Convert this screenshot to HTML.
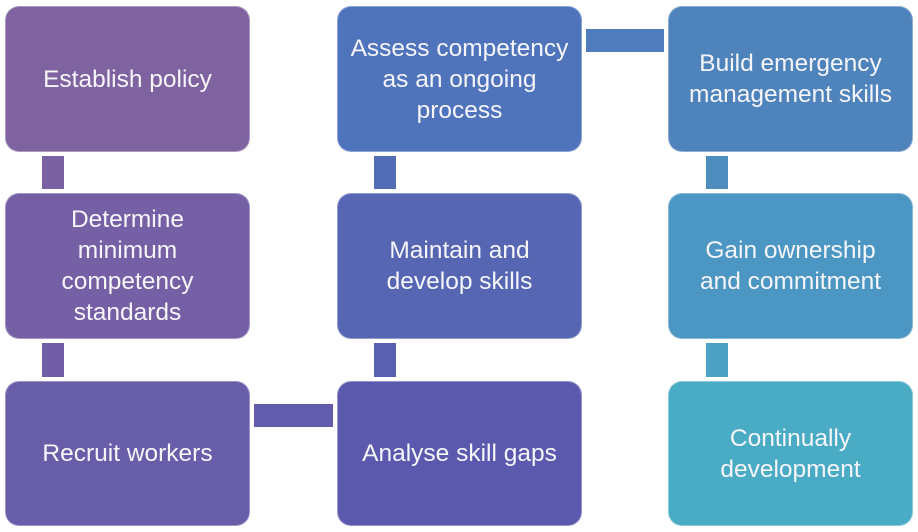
<!DOCTYPE html>
<html><head><meta charset="utf-8"><style>
html,body{margin:0;padding:0;background:#fff;}
body{width:918px;height:532px;position:relative;overflow:hidden;font-family:"Liberation Sans",sans-serif;}
.b{position:absolute;width:245px;height:146px;border-radius:14px;display:flex;align-items:center;justify-content:center;text-align:center;color:#f6f6fa;font-size:24.5px;line-height:31px;box-sizing:border-box;border:1px solid rgba(255,255,255,0.35);}
.c{position:absolute;}
</style></head><body>
<div class="b" style="left:5px;top:6px;background:#7f63a0;">Establish policy</div>
<div class="b" style="left:5px;top:193px;background:#7560a5;">Determine<br>minimum<br>competency<br>standards</div>
<div class="b" style="left:5px;top:381px;height:145px;background:#675da8;">Recruit workers</div>

<div class="b" style="left:337px;top:6px;background:#4f74bc;">Assess competency<br>as an ongoing<br>process</div>
<div class="b" style="left:337px;top:193px;background:#5666b2;">Maintain and<br>develop skills</div>
<div class="b" style="left:337px;top:381px;height:145px;background:#5b59ae;">Analyse skill gaps</div>

<div class="b" style="left:668px;top:6px;background:#4f83bc;">Build emergency<br>management skills</div>
<div class="b" style="left:668px;top:193px;background:#4b96c2;">Gain ownership<br>and commitment</div>
<div class="b" style="left:668px;top:381px;height:145px;background:#4aabc5;">Continually<br>development</div>

<div class="c" style="left:42px;top:156px;width:22px;height:33px;background:#7a61a2;"></div>
<div class="c" style="left:42px;top:343px;width:22px;height:34px;background:#6f5ea6;"></div>
<div class="c" style="left:254px;top:404px;width:79px;height:23px;background:#635bab;"></div>
<div class="c" style="left:374px;top:343px;width:22px;height:34px;background:#5960b0;"></div>
<div class="c" style="left:374px;top:156px;width:22px;height:33px;background:#526db6;"></div>
<div class="c" style="left:586px;top:29px;width:78px;height:23px;background:#4e7cbd;"></div>
<div class="c" style="left:706px;top:156px;width:22px;height:33px;background:#4d8ebf;"></div>
<div class="c" style="left:706px;top:343px;width:22px;height:34px;background:#4ba2c4;"></div>
</body></html>
